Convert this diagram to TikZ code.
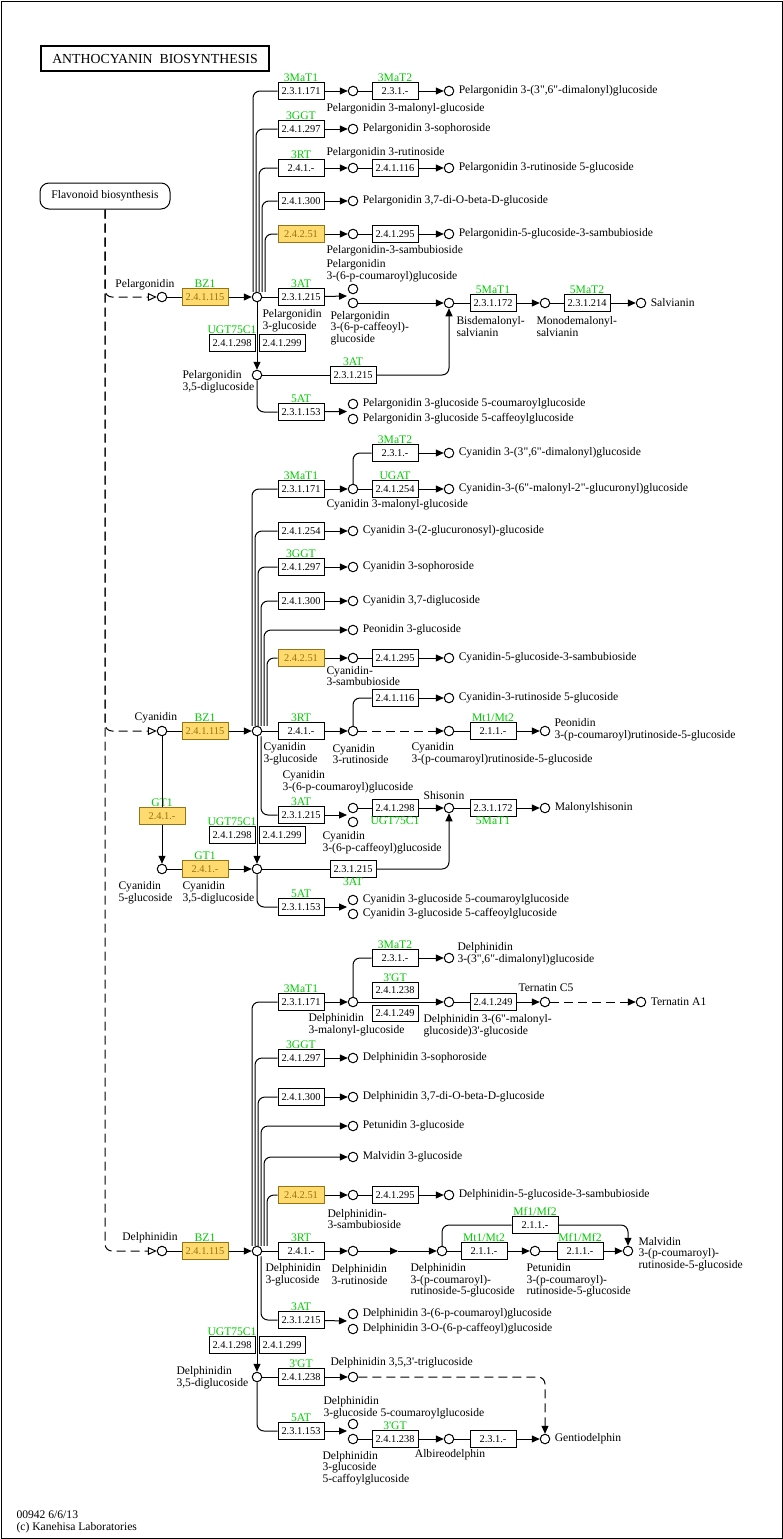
\documentclass[tikz,border=0pt]{standalone}
\usepackage{fontspec}
\setmainfont{Liberation Serif}[Ligatures=TeXOff]
\usetikzlibrary{arrows.meta,positioning}
\definecolor{keggreen}{RGB}{0,204,0}
\definecolor{hitfill}{RGB}{255,218,110}
\definecolor{hittext}{RGB}{150,115,20}
\newcommand{\cpdsize}{\fontsize{11.6}{11.6}\selectfont}
\newcommand{\ecsize}{\fontsize{10.4}{10.4}\selectfont}

\begin{document}
\begin{tikzpicture}[>={Triangle[length=8pt,width=7pt]},x=1pt,y=-1pt,line width=1pt,font=\cpdsize]
	\tikzset{cpd/.style={circle,draw,fill=white,minimum size=9.5pt,inner sep=0pt}}
	\tikzset{ec/.style={draw,fill=white,minimum width=46pt,minimum height=16.5pt,inner sep=0pt,font=\ecsize,label distance=2.5pt}}
	\tikzset{hit/.style={ec,fill=hitfill,draw=hittext,text=hittext}}
	\tikzset{gene/.style={text=keggreen,inner sep=0pt,font=\cpdsize}}
	\tikzset{lbl/.style={inner sep=0pt,align=left,anchor=west}}
	\tikzset{roundturn/.style={rounded corners=7pt}}
	\tikzset{link/.style={dash pattern=on 9pt off 5pt}}
	\tikzset{entry/.style={-{Triangle[open,length=9pt,width=8pt]}}}

	% map frame and title
	\useasboundingbox (0,0) rectangle (783,1539);
	\draw (1,1) rectangle (782,1538);
	\node[draw,line width=2pt,minimum width=228pt,minimum height=25pt,font=\fontsize{13.8}{13.8}\selectfont] (title) at (155,58.5) {ANTHOCYANIN\ \ BIOSYNTHESIS};
	\node[draw,rounded corners=9pt,minimum width=130pt,minimum height=26pt] (flav) at (105,196) {Flavonoid biosynthesis};
	\node[lbl] (foot) at (16,1522) {00942 6/6/13\\(c) Kanehisa Laboratories};

	% pelargonidin
	\node[cpd] (p0) at (162,297) {};
	\node[hit,label={[gene]above:BZ1}] (pBZ1) at (205,297) {2.4.1.115};
	\node[cpd] (pg) at (257,297) {};
	\node[ec,label={[gene]above:3MaT1}] (pMaT1) at (301,91) {2.3.1.171};
	\node[cpd] (pm) at (353,91) {};
	\node[ec,label={[gene]above:3MaT2}] (pMaT2) at (395,91) {2.3.1.-};
	\node[cpd] (pdm) at (449,91) {};
	\node[ec,label={[gene]above:3GGT}] (pGGT) at (301,129) {2.4.1.297};
	\node[cpd] (pso) at (353,129) {};
	\node[ec,label={[gene]above:3RT}] (pRT) at (301,168) {2.4.1.-};
	\node[cpd] (pru) at (353,168) {};
	\node[ec] (pE116) at (395,168) {2.4.1.116};
	\node[cpd] (pr5) at (449,168) {};
	\node[ec] (pE300) at (301,201) {2.4.1.300};
	\node[cpd] (pdg) at (353,201) {};
	\node[hit] (pE251) at (301,234) {2.4.2.51};
	\node[cpd] (psa) at (353,234) {};
	\node[ec] (pE295) at (395,234) {2.4.1.295};
	\node[cpd] (ps5) at (449,234) {};
	\node[ec,label={[gene]above:3AT}] (pAT) at (301,297) {2.3.1.215};
	\coordinate (pATtip) at (347,296);
	\node[cpd] (pco) at (353,289) {};
	\node[cpd] (pca) at (353,303) {};
	\node[cpd] (pbis) at (449,303) {};
	\node[ec,label={[gene]above:5MaT1}] (pMT1) at (493,303) {2.3.1.172};
	\node[cpd] (pmono) at (545,303) {};
	\node[ec,label={[gene]above:5MaT2}] (pMT2) at (587,303) {2.3.1.214};
	\node[cpd] (psal) at (641,303) {};
	\node[ec,label={[gene]above:UGT75C1}] (pUa) at (232,343) {2.4.1.298};
	\node[ec] (pUb) at (282,343) {2.4.1.299};
	\node[cpd] (pdi) at (257,375) {};
	\node[ec,label={[gene]above:3AT}] (pAT2) at (353,375) {2.3.1.215};
	\node[ec,label={[gene]above:5AT}] (p5AT) at (301,412) {2.3.1.153};
	\coordinate (p5tip) at (347,411.5);
	\node[cpd] (p5co) at (353,404) {};
	\node[cpd] (p5ca) at (353,419) {};
	% pelargonidin names
	\node[lbl,anchor=center] at (145,285) {Pelargonidin};
	\node[lbl,right=4pt of pdm] {Pelargonidin 3-(3",6"-dimalonyl)glucoside};
	\node[lbl] at (326,109) {Pelargonidin 3-malonyl-glucoside};
	\node[lbl,right=4pt of pso] {Pelargonidin 3-sophoroside};
	\node[lbl] at (326,153) {Pelargonidin 3-rutinoside};
	\node[lbl,right=4pt of pr5] {Pelargonidin 3-rutinoside 5-glucoside};
	\node[lbl,right=4pt of pdg] {Pelargonidin 3,7-di-O-beta-D-glucoside};
	\node[lbl,right=4pt of ps5] {Pelargonidin-5-glucoside-3-sambubioside};
	\node[lbl] at (326,251) {Pelargonidin-3-sambubioside};
	\node[lbl] at (326,270.5) {Pelargonidin\\3-(6-p-coumaroyl)glucoside};
	\node[lbl] at (262,320.5) {Pelargonidin\\3-glucoside};
	\node[lbl] at (330,328) {Pelargonidin\\3-(6-p-caffeoyl)-\\glucoside};
	\node[lbl] at (456,326.5) {Bisdemalonyl-\\salvianin};
	\node[lbl] at (536,326.5) {Monodemalonyl-\\salvianin};
	\node[lbl,right=4pt of psal] {Salvianin};
	\node[lbl] at (182,382) {Pelargonidin\\3,5-diglucoside};
	\node[lbl,right=4pt of p5co] {Pelargonidin 3-glucoside 5-coumaroylglucoside};
	\node[lbl,right=4pt of p5ca] {Pelargonidin 3-glucoside 5-caffeoylglucoside};
	% pelargonidin edges
	\draw[link,entry,roundturn] (flav.south) |- (p0);
	\path (p0) edge (pBZ1);
	\path (pBZ1) edge[->] (pg);
	\draw[roundturn] ([xshift=-4pt]pg.north) |- (pMaT1.west);
	\draw[roundturn] ([xshift=-1pt]pg.north) |- (pGGT.west);
	\draw[roundturn] ([xshift=2pt]pg.north) |- (pRT.west);
	\draw[roundturn] ([xshift=5pt]pg.north) |- (pE300.west);
	\draw[roundturn] ([xshift=8pt]pg.north) |- (pE251.west);
	\path (pMaT1) edge[->] (pm);
	\path (pm) edge (pMaT2);
	\path (pMaT2) edge[->] (pdm);
	\path (pGGT) edge[->] (pso);
	\path (pRT) edge[->] (pru);
	\path (pru) edge (pE116);
	\path (pE116) edge[->] (pr5);
	\path (pE300) edge[->] (pdg);
	\path (pE251) edge[->] (psa);
	\path (psa) edge (pE295);
	\path (pE295) edge[->] (ps5);
	\path (pg) edge (pAT);
	\path (pAT) edge[->] (pATtip);
	\path (pca) edge[->] (pbis);
	\path (pbis) edge (pMT1);
	\path (pMT1) edge[->] (pmono);
	\path (pmono) edge (pMT2);
	\path (pMT2) edge[->] (psal);
	\path (pg) edge[->] (pdi);
	\path (pdi) edge (pAT2);
	\draw[->,roundturn] (pAT2.east) -| (pbis);
	\draw[roundturn] (pdi.south) |- (p5AT.west);
	\path (p5AT) edge[->] (p5tip);

	% cyanidin
	\node[cpd] (c0) at (162,731) {};
	\node[hit,label={[gene]above:BZ1}] (cBZ1) at (205,731) {2.4.1.115};
	\node[cpd] (cg) at (257,731) {};
	\node[hit,label={[gene]above:GT1}] (cGT1a) at (162,816) {2.4.1.-};
	\node[cpd] (c5g) at (162,869) {};
	\node[hit,label={[gene]above:GT1}] (cGT1b) at (205,869) {2.4.1.-};
	\node[cpd] (cdi) at (257,869) {};
	\node[ec,label={[gene]above:3MaT1}] (cMaT1) at (301,489) {2.3.1.171};
	\node[cpd] (cm) at (353,489) {};
	\node[ec,label={[gene]above:3MaT2}] (cMaT2) at (395,453) {2.3.1.-};
	\node[cpd] (cdm) at (449,453) {};
	\node[ec,label={[gene]above:UGAT}] (cUGAT) at (395,489) {2.4.1.254};
	\node[cpd] (cug) at (449,489) {};
	\node[ec] (cE254) at (301,531) {2.4.1.254};
	\node[cpd] (cgl) at (353,531) {};
	\node[ec,label={[gene]above:3GGT}] (cGGT) at (301,567) {2.4.1.297};
	\node[cpd] (cso) at (353,567) {};
	\node[ec] (cE300) at (301,601) {2.4.1.300};
	\node[cpd] (cdg) at (353,601) {};
	\node[cpd] (cpe) at (353,630) {};
	\node[hit] (cE251) at (301,658) {2.4.2.51};
	\node[cpd] (csa) at (353,658) {};
	\node[ec] (cE295) at (395,658) {2.4.1.295};
	\node[cpd] (cs5) at (449,658) {};
	\node[ec,label={[gene]above:3RT}] (cRT) at (301,731) {2.4.1.-};
	\node[cpd] (cru) at (353,731) {};
	\node[ec] (cE116) at (395,698) {2.4.1.116};
	\node[cpd] (cr5) at (449,698) {};
	\node[cpd] (ccr) at (449,731) {};
	\node[ec,label={[gene]above:Mt1/Mt2}] (cMt) at (493,731) {2.1.1.-};
	\node[cpd] (cpc) at (545,731) {};
	\node[ec,label={[gene]above:3AT}] (cAT) at (301,815) {2.3.1.215};
	\coordinate (cATtip) at (347,815);
	\node[cpd] (cco) at (353,808) {};
	\node[cpd] (cca) at (353,822) {};
	\node[ec,label={[gene]below:UGT75C1}] (cUGT) at (395,808) {2.4.1.298};
	\node[cpd] (cshi) at (449,808) {};
	\node[ec,label={[gene]below:5MaT1}] (cMT1) at (493,808) {2.3.1.172};
	\node[cpd] (cmsh) at (545,808) {};
	\node[ec,label={[gene]above:UGT75C1}] (cUa) at (232,835) {2.4.1.298};
	\node[ec] (cUb) at (282,835) {2.4.1.299};
	\node[ec,label={[gene]below:3AT}] (cAT2) at (353,869) {2.3.1.215};
	\node[ec,label={[gene]above:5AT}] (c5AT) at (301,907) {2.3.1.153};
	\coordinate (c5tip) at (347,907);
	\node[cpd] (c5co) at (353,900) {};
	\node[cpd] (c5ca) at (353,914) {};
	% cyanidin names
	\node[lbl,anchor=center] at (156,718) {Cyanidin};
	\node[lbl,right=4pt of cdm] {Cyanidin 3-(3",6"-dimalonyl)glucoside};
	\node[lbl,right=4pt of cug] {Cyanidin-3-(6"-malonyl-2"-glucuronyl)glucoside};
	\node[lbl] at (326,505) {Cyanidin 3-malonyl-glucoside};
	\node[lbl,right=4pt of cgl] {Cyanidin 3-(2-glucuronosyl)-glucoside};
	\node[lbl,right=4pt of cso] {Cyanidin 3-sophoroside};
	\node[lbl,right=4pt of cdg] {Cyanidin 3,7-diglucoside};
	\node[lbl,right=4pt of cpe] {Peonidin 3-glucoside};
	\node[lbl,right=4pt of cs5] {Cyanidin-5-glucoside-3-sambubioside};
	\node[lbl] at (326,676) {Cyanidin-\\3-sambubioside};
	\node[lbl,right=4pt of cr5] {Cyanidin-3-rutinoside 5-glucoside};
	\node[lbl] at (263,754) {Cyanidin\\3-glucoside};
	\node[lbl] at (332,754) {Cyanidin\\3-rutinoside};
	\node[lbl] at (411,754) {Cyanidin\\3-(p-coumaroyl)rutinoside-5-glucoside};
	\node[lbl] at (554,730) {Peonidin\\3-(p-coumaroyl)rutinoside-5-glucoside};
	\node[lbl] at (282,781.5) {Cyanidin\\3-(6-p-coumaroyl)glucoside};
	\node[lbl,anchor=center] at (444,796) {Shisonin};
	\node[lbl,right=4pt of cmsh] {Malonylshisonin};
	\node[lbl] at (322,842.5) {Cyanidin\\3-(6-p-caffeoyl)glucoside};
	\node[lbl] at (118,893) {Cyanidin\\5-glucoside};
	\node[lbl] at (182,893) {Cyanidin\\3,5-diglucoside};
	\node[lbl,right=4pt of c5co] {Cyanidin 3-glucoside 5-coumaroylglucoside};
	\node[lbl,right=4pt of c5ca] {Cyanidin 3-glucoside 5-caffeoylglucoside};
	% cyanidin edges
	\draw[link,entry,roundturn] (flav.south) |- (c0);
	\path (c0) edge (cBZ1);
	\path (cBZ1) edge[->] (cg);
	\path (c0) edge (cGT1a);
	\path (cGT1a) edge[->] (c5g);
	\path (c5g) edge (cGT1b);
	\path (cGT1b) edge[->] (cdi);
	\draw[roundturn] ([xshift=-5pt]cg.north) |- (cMaT1.west);
	\draw[roundturn] ([xshift=-2pt]cg.north) |- (cE254.west);
	\draw[roundturn] ([xshift=1pt]cg.north) |- (cGGT.west);
	\draw[roundturn] ([xshift=4pt]cg.north) |- (cE300.west);
	\draw[->,roundturn] ([xshift=7pt]cg.north) |- (cpe);
	\draw[roundturn] ([xshift=10pt]cg.north) |- (cE251.west);
	\path (cMaT1) edge[->] (cm);
	\draw[roundturn] (cm.north) |- (cMaT2.west);
	\path (cMaT2) edge[->] (cdm);
	\path (cm) edge (cUGAT);
	\path (cUGAT) edge[->] (cug);
	\path (cE254) edge[->] (cgl);
	\path (cGGT) edge[->] (cso);
	\path (cE300) edge[->] (cdg);
	\path (cE251) edge[->] (csa);
	\path (csa) edge (cE295);
	\path (cE295) edge[->] (cs5);
	\path (cg) edge (cRT);
	\path (cRT) edge[->] (cru);
	\draw[roundturn] (cru.north) |- (cE116.west);
	\path (cE116) edge[->] (cr5);
	\path (cru) edge[link,->] (ccr);
	\path (ccr) edge (cMt);
	\path (cMt) edge[->] (cpc);
	\draw[roundturn] ([xshift=4pt]cg.south) |- (cAT.west);
	\path (cAT) edge[->] (cATtip);
	\path (cco) edge (cUGT);
	\path (cUGT) edge[->] (cshi);
	\path (cshi) edge (cMT1);
	\path (cMT1) edge[->] (cmsh);
	\path (cg) edge[->] (cdi);
	\path (cdi) edge (cAT2);
	\draw[->,roundturn] (cAT2.east) -| (cshi);
	\draw[roundturn] (cdi.south) |- (c5AT.west);
	\path (c5AT) edge[->] (c5tip);

	% delphinidin
	\node[cpd] (d0) at (162,1251) {};
	\node[hit,label={[gene]above:BZ1}] (dBZ1) at (205,1251) {2.4.1.115};
	\node[cpd] (dg) at (257,1251) {};
	\node[ec,label={[gene]above:3MaT1}] (dMaT1) at (301,1002) {2.3.1.171};
	\node[cpd] (dm) at (353,1002) {};
	\node[ec,label={[gene]above:3MaT2}] (dMaT2) at (395,958) {2.3.1.-};
	\node[cpd] (ddm) at (449,958) {};
	\node[ec,label={[gene]above:3'GT}] (dGTa) at (395,990.5) {2.4.1.238};
	\node[ec] (dGTb) at (395,1013.5) {2.4.1.249};
	\node[cpd] (dmg) at (449,1002) {};
	\node[ec] (dE249) at (493,1002) {2.4.1.249};
	\node[cpd] (dtc) at (545,1002) {};
	\node[cpd] (dta) at (641,1002) {};
	\node[ec,label={[gene]above:3GGT}] (dGGT) at (301,1058) {2.4.1.297};
	\node[cpd] (dso) at (353,1058) {};
	\node[ec] (dE300) at (301,1097) {2.4.1.300};
	\node[cpd] (ddg) at (353,1097) {};
	\node[cpd] (dpt) at (353,1126) {};
	\node[cpd] (dmv) at (353,1157) {};
	\node[hit] (dE251) at (301,1195) {2.4.2.51};
	\node[cpd] (dsa) at (353,1195) {};
	\node[ec] (dE295) at (395,1195) {2.4.1.295};
	\node[cpd] (ds5) at (449,1195) {};
	\node[ec,label={[gene]above:3RT}] (dRT) at (301,1251) {2.4.1.-};
	\node[cpd] (dru) at (353,1251) {};
	\coordinate (dmid) at (398,1251);
	\node[cpd] (dcr) at (442,1251) {};
	\node[ec,label={[gene]above:Mt1/Mt2}] (dMt) at (484,1251) {2.1.1.-};
	\node[cpd] (dpc) at (535,1251) {};
	\node[ec,label={[gene]above:Mf1/Mf2}] (dMf) at (580,1251) {2.1.1.-};
	\node[cpd] (dmc) at (628,1251) {};
	\node[ec,label={[gene]above:Mf1/Mf2}] (dMfb) at (535,1225) {2.1.1.-};
	\node[ec,label={[gene]above:3AT}] (dAT) at (301,1320) {2.3.1.215};
	\coordinate (dATtip) at (347,1321);
	\node[cpd] (dco) at (353,1314) {};
	\node[cpd] (dca) at (353,1329) {};
	\node[ec,label={[gene]above:UGT75C1}] (dUa) at (232,1345) {2.4.1.298};
	\node[ec] (dUb) at (282,1345) {2.4.1.299};
	\node[cpd] (ddi) at (257,1377) {};
	\node[ec,label={[gene]above:3'GT}] (dGT3) at (301,1377) {2.4.1.238};
	\node[cpd] (dtri) at (353,1377) {};
	\node[ec,label={[gene]above:5AT}] (d5AT) at (301,1431) {2.3.1.153};
	\coordinate (d5tip) at (347,1431);
	\node[cpd] (d5co) at (353,1424) {};
	\node[cpd] (d5ca) at (353,1439) {};
	\node[ec,label={[gene]above:3'GT}] (dGT4) at (395,1439) {2.4.1.238};
	\node[cpd] (dalb) at (449,1439) {};
	\node[ec] (dE231) at (493,1439) {2.3.1.-};
	\node[cpd] (dgen) at (545,1439) {};
	% delphinidin names
	\node[lbl,anchor=center] at (150,1238) {Delphinidin};
	\node[lbl] at (457,953.5) {Delphinidin\\3-(3",6"-dimalonyl)glucoside};
	\node[lbl] at (308,1025) {Delphinidin\\3-malonyl-glucoside};
	\node[lbl] at (423,1025.5) {Delphinidin 3-(6"-malonyl-\\glucoside)3'-glucoside};
	\node[lbl,anchor=center] at (546,988) {Ternatin C5};
	\node[lbl,right=4pt of dta] {Ternatin A1};
	\node[lbl,right=4pt of dso] {Delphinidin 3-sophoroside};
	\node[lbl,right=4pt of ddg] {Delphinidin 3,7-di-O-beta-D-glucoside};
	\node[lbl,right=4pt of dpt] {Petunidin 3-glucoside};
	\node[lbl,right=4pt of dmv] {Malvidin 3-glucoside};
	\node[lbl,right=4pt of ds5] {Delphinidin-5-glucoside-3-sambubioside};
	\node[lbl] at (327,1219) {Delphinidin-\\3-sambubioside};
	\node[lbl] at (265,1274.5) {Delphinidin\\3-glucoside};
	\node[lbl] at (331,1274.5) {Delphinidin\\3-rutinoside};
	\node[lbl] at (410,1280.5) {Delphinidin\\3-(p-coumaroyl)-\\rutinoside-5-glucoside};
	\node[lbl] at (526,1280.5) {Petunidin\\3-(p-coumaroyl)-\\rutinoside-5-glucoside};
	\node[lbl] at (638,1254) {Malvidin\\3-(p-coumaroyl)-\\rutinoside-5-glucoside};
	\node[lbl,right=4pt of dco] {Delphinidin 3-(6-p-coumaroyl)glucoside};
	\node[lbl,right=4pt of dca] {Delphinidin 3-O-(6-p-caffeoyl)glucoside};
	\node[lbl] at (176,1377.5) {Delphinidin\\3,5-diglucoside};
	\node[lbl] at (330,1363) {Delphinidin 3,5,3'-triglucoside};
	\node[lbl] at (323,1407.5) {Delphinidin\\3-glucoside 5-coumaroylglucoside};
	\node[lbl] at (322,1468) {Delphinidin\\3-glucoside\\5-caffoylglucoside};
	\node[lbl,anchor=center] at (450,1455) {Albireodelphin};
	\node[lbl,right=4pt of dgen] {Gentiodelphin};
	% delphinidin edges
	\draw[link,entry,roundturn] (flav.south) |- (d0);
	\path (d0) edge (dBZ1);
	\path (dBZ1) edge[->] (dg);
	\draw[roundturn] ([xshift=-5pt]dg.north) |- (dMaT1.west);
	\draw[roundturn] ([xshift=-2pt]dg.north) |- (dGGT.west);
	\draw[roundturn] ([xshift=1pt]dg.north) |- (dE300.west);
	\draw[->,roundturn] ([xshift=4pt]dg.north) |- (dpt);
	\draw[->,roundturn] ([xshift=7pt]dg.north) |- (dmv);
	\draw[roundturn] ([xshift=10pt]dg.north) |- (dE251.west);
	\path (dMaT1) edge[->] (dm);
	\draw[roundturn] (dm.north) |- (dMaT2.west);
	\path (dMaT2) edge[->] (ddm);
	\path (dm) edge[->] (dmg);
	\path (dmg) edge (dE249);
	\path (dE249) edge[->] (dtc);
	\path (dtc) edge[link,->] (dta);
	\path (dGGT) edge[->] (dso);
	\path (dE300) edge[->] (ddg);
	\path (dE251) edge[->] (dsa);
	\path (dsa) edge (dE295);
	\path (dE295) edge[->] (ds5);
	\path (dg) edge (dRT);
	\path (dRT) edge[->] (dru);
	\path (dru) edge[->] (dmid);
	\path (dmid) edge[->] (dcr);
	\path (dcr) edge (dMt);
	\path (dMt) edge[->] (dpc);
	\path (dpc) edge (dMf);
	\path (dMf) edge[->] (dmc);
	\draw[roundturn] (dcr.north) |- (dMfb.west);
	\draw[->,roundturn] (dMfb.east) -| (dmc);
	\draw[roundturn] ([xshift=4pt]dg.south) |- (dAT.west);
	\path (dAT) edge[->] (dATtip);
	\path (dg) edge[->] (ddi);
	\path (ddi) edge (dGT3);
	\path (dGT3) edge[->] (dtri);
	\draw[link,->,roundturn] (dtri) -| (dgen);
	\draw[roundturn] (ddi.south) |- (d5AT.west);
	\path (d5AT) edge[->] (d5tip);
	\path (d5ca) edge (dGT4);
	\path (dGT4) edge[->] (dalb);
	\path (dalb) edge (dE231);
	\path (dE231) edge[->] (dgen);
\end{tikzpicture}
\end{document}
